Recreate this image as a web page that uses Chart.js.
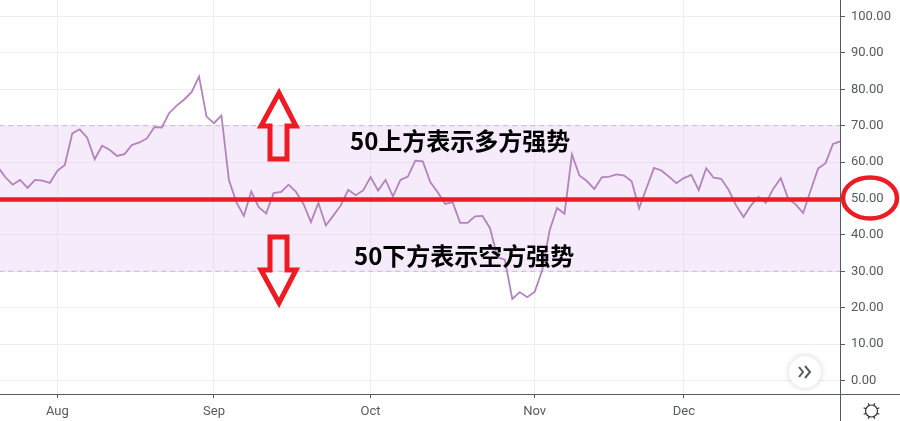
<!DOCTYPE html>
<html><head><meta charset="utf-8">
<script src="https://cdn.jsdelivr.net/npm/chart.js@4"></script>
<style>html,body{margin:0;padding:0;background:#fff}#w{position:relative;width:900px;height:421px}canvas{display:block}</style>
</head><body><div id="w"><canvas id="c" width="900" height="421"></canvas></div>
<script>
const rsiValues = [58.8,55.9,53.8,55.1,52.9,55.1,54.9,54.3,57.6,59.2,67.9,69.0,66.7,60.8,64.5,63.4,61.7,62.2,64.7,65.4,66.5,69.6,69.5,73.5,75.5,77.2,79.2,83.5,72.5,70.7,72.8,55.1,49.0,45.2,51.9,47.6,45.9,51.5,51.8,53.8,51.8,48.5,43.5,48.8,42.6,45.3,48.1,52.4,50.9,52.2,55.9,52.2,55.1,50.6,55.1,56.0,60.4,60.2,54.5,51.7,48.5,49.0,43.3,43.3,45.1,45.2,41.9,33.9,33.2,22.4,24.3,22.9,24.3,30.2,41.2,47.4,45.8,62.1,56.3,54.8,52.6,55.8,56.0,56.6,56.3,54.7,47.3,52.9,58.4,57.7,56.0,54.2,55.6,56.5,52.3,58.3,55.7,55.4,52.4,48.1,44.9,48.1,50.4,48.8,52.7,55.6,49.9,48.4,46.0,52.2,58.2,59.7,65.0,65.7];
const monthLabels = ['Aug','Sep','Oct','Nov','Dec'];
const monthIndex = [8,29,50,72,92];
const yTicks = [0,10,20,30,40,50,60,70,80,90,100];
const upperBand = 70, lowerBand = 30, midLine = 49.7;
const upperText = '50上方表示多方强势';
const lowerText = '50下方表示空方强势';
const pts = rsiValues.map((v,i)=>({x:i,y:v}));
const flat = v => [{x:-1,y:v},{x:rsiValues.length,y:v}];

const overlay = {
  id:'overlay',
  afterDraw(ch){
    const c = ch.ctx, RED='#ed1c24';
    c.save();
    c.strokeStyle='#555b60'; c.lineWidth=1;
    c.beginPath(); c.moveTo(0,394.5); c.lineTo(900,394.5);
    c.moveTo(840.5,0); c.lineTo(840.5,421); c.stroke();
    c.strokeStyle=RED; c.lineWidth=5; c.lineJoin='miter';
    const arrow=(p)=>{c.beginPath();p.forEach((q,i)=>i?c.lineTo(q[0],q[1]):c.moveTo(q[0],q[1]));c.closePath();c.stroke();};
    arrow([[279,93],[296,126],[287,126],[287,159],[270,159],[270,126],[261,126]]);
    arrow([[270,237],[287,237],[287,270],[296,270],[279,303],[261,270],[270,270]]);
    c.beginPath(); c.ellipse(870,198,27,20.5,0,0,Math.PI*2); c.lineWidth=4.5; c.stroke();
    c.fillStyle='#000'; c.font='bold 24px "Noto Sans CJK SC"'; c.textBaseline='middle'; c.textAlign='left';
    c.fillText(upperText,350,141);
    c.fillText(lowerText,354,256);
    c.shadowColor='rgba(0,0,0,.18)'; c.shadowBlur=6;
    c.fillStyle='#fff'; c.beginPath(); c.arc(805,372,16,0,Math.PI*2); c.fill();
    c.shadowBlur=0;
    c.strokeStyle='#555b60'; c.lineWidth=2;
    c.beginPath(); c.moveTo(799,367); c.lineTo(803,372); c.lineTo(799,377);
    c.moveTo(805,366); c.lineTo(810,372); c.lineTo(805,378); c.stroke();
    c.strokeStyle='#333'; c.lineWidth=1.2;
    c.beginPath(); c.arc(871.5,411,6,0,Math.PI*2); c.stroke();
    c.beginPath();
    for(let k=0;k<8;k++){const a=k*Math.PI/4+Math.PI/8;
      c.moveTo(871.5+Math.cos(a)*6,411+Math.sin(a)*6);c.lineTo(871.5+Math.cos(a)*8.5,411+Math.sin(a)*8.5);}
    c.stroke();
    c.restore();
  }
};

new Chart(document.getElementById('c'),{
  type:'line',
  data:{datasets:[
    {label:'upper',data:flat(upperBand),borderColor:'#c9b8d4',borderWidth:1,borderDash:[5,4],pointRadius:0,fill:'+1',backgroundColor:'rgba(226,200,245,.36)',order:5},
    {label:'lower',data:flat(lowerBand),borderColor:'#c9b8d4',borderWidth:1,borderDash:[5,4],pointRadius:0,fill:false,order:5},
    {label:'RSI',data:pts,borderColor:'#b283bd',borderWidth:1.8,pointRadius:0,tension:0,fill:false,order:2},
    {label:'mid',data:flat(midLine),borderColor:'#ed1c24',borderWidth:4.5,pointRadius:0,fill:false,order:1}
  ]},
  options:{
    responsive:false,animation:false,
    layout:{padding:0},
    plugins:{legend:{display:false},tooltip:{enabled:false}},
    scales:{
      x:{type:'linear',min:0.308,max:112.94,position:'bottom',
        afterBuildTicks(a){a.ticks=monthIndex.map(v=>({value:v}));},
        afterFit(a){a.height=27;a.paddingLeft=0;a.paddingRight=0;},
        grid:{color:'#eeedf0',lineWidth:1,tickLength:4,tickColor:'#555b60'},
        border:{display:false},
        ticks:{autoSkip:false,maxRotation:0,padding:6,color:'#555b60',font:{family:'Roboto',size:13},
          callback(v){const k=monthIndex.indexOf(v);return k>=0?monthLabels[k]:'';}}
      },
      y:{position:'right',min:-3.71,max:104.53,
        afterBuildTicks(a){a.ticks=yTicks.map(v=>({value:v}));},
        afterFit(a){a.width=60;a.paddingTop=0;a.paddingBottom=0;},
        grid:{color:'#eeedf0',lineWidth:1,tickLength:5,tickColor:'#555b60'},
        border:{display:false},
        ticks:{autoSkip:false,padding:6,color:'#555b60',font:{family:'Roboto',size:13},
          callback(v){return v.toFixed(2);}}
      }
    }
  },
  plugins:[overlay]
});
</script></body></html>
